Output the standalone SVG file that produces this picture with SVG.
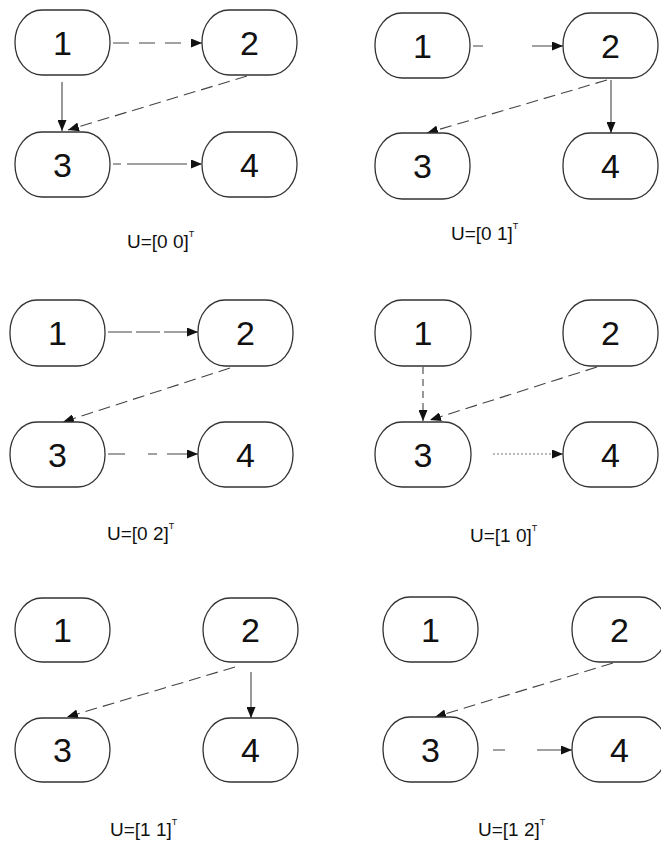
<svg xmlns="http://www.w3.org/2000/svg" width="661" height="842" viewBox="0 0 661 842">
<style>
.n{fill:#fff;stroke:#333;stroke-width:1.3}
.d{font-family:"Liberation Sans",Arial,sans-serif;font-size:34px;fill:#111;text-anchor:middle}
.l{font-family:"Liberation Sans",Arial,sans-serif;font-size:19px;fill:#111}
.s{font-size:9px}
.e{fill:none;stroke:#444;stroke-width:1.1;marker-end:url(#a)}
.da{stroke-dasharray:12 6}
</style>
<defs>
<marker id="a" markerUnits="userSpaceOnUse" markerWidth="11" markerHeight="9" refX="11" refY="4.5" orient="auto">
<path d="M0,0 L11,4.5 L0,9 z" fill="#111"/>
</marker>
</defs>
<g id="connectors">
<path class="e" style="stroke-dasharray:16 10" d="M113,43 L202,43"/>
<path class="e" d="M62,82 L62,131"/>
<path class="e da" d="M247,76 L68,130"/>
<path class="e" style="stroke-dasharray:8 6 60" d="M113,164 L202,164"/>
<path class="e" style="stroke-dasharray:10 49 40" d="M473,46 L563,46"/>
<path class="e da" d="M607,80 L427,133"/>
<path class="e" d="M611,80 L611,133"/>
<path class="e" style="stroke-dasharray:24 4" d="M108,332 L198,332"/>
<path class="e da" d="M230,368 L63,422"/>
<path class="e" style="stroke-dasharray:17 23 9 10 40" d="M108,454 L198,454"/>
<path class="e" style="stroke-dasharray:7 5" d="M423,367 L423,421"/>
<path class="e da" d="M597,367 L430,420"/>
<path class="e" style="stroke-dasharray:2 2;stroke:#777" d="M493,454 L563,454"/>
<path class="e da" d="M235,667 L67,717"/>
<path class="e" d="M251,672 L251,718"/>
<path class="e da" d="M613,663 L435,717"/>
<path class="e" style="stroke-dasharray:12 32 60" d="M493,750 L572,750"/>
</g>
<g id="p1n1"><rect class="n" x="15" y="10" width="95" height="65" rx="27" ry="32"/><text class="d" x="62.5" y="55">1</text></g>
<g id="p1n2"><rect class="n" x="202" y="10" width="95" height="65" rx="27" ry="32"/><text class="d" x="249.5" y="55">2</text></g>
<g id="p1n3"><rect class="n" x="15" y="132" width="95" height="65" rx="27" ry="32"/><text class="d" x="62.5" y="177">3</text></g>
<g id="p1n4"><rect class="n" x="202" y="132" width="95" height="65" rx="27" ry="32"/><text class="d" x="249.5" y="177">4</text></g>
<g id="p2n1"><rect class="n" x="375" y="13" width="95" height="65" rx="27" ry="32"/><text class="d" x="422.5" y="58">1</text></g>
<g id="p2n2"><rect class="n" x="563" y="13" width="95" height="65" rx="27" ry="32"/><text class="d" x="610.5" y="58">2</text></g>
<g id="p2n3"><rect class="n" x="375" y="133" width="95" height="66" rx="27" ry="32"/><text class="d" x="422.5" y="178">3</text></g>
<g id="p2n4"><rect class="n" x="563" y="133" width="95" height="66" rx="27" ry="32"/><text class="d" x="610.5" y="178">4</text></g>
<g id="p3n1"><rect class="n" x="10" y="300" width="95" height="66" rx="27" ry="32"/><text class="d" x="57.5" y="345">1</text></g>
<g id="p3n2"><rect class="n" x="198" y="300" width="95" height="66" rx="27" ry="32"/><text class="d" x="245.5" y="345">2</text></g>
<g id="p3n3"><rect class="n" x="10" y="422" width="95" height="65" rx="27" ry="32"/><text class="d" x="57.5" y="467">3</text></g>
<g id="p3n4"><rect class="n" x="198" y="422" width="95" height="65" rx="27" ry="32"/><text class="d" x="245.5" y="467">4</text></g>
<g id="p4n1"><rect class="n" x="375" y="300" width="96" height="66" rx="27" ry="32"/><text class="d" x="423" y="345">1</text></g>
<g id="p4n2"><rect class="n" x="563" y="300" width="95" height="66" rx="27" ry="32"/><text class="d" x="610.5" y="345">2</text></g>
<g id="p4n3"><rect class="n" x="375" y="422" width="96" height="65" rx="27" ry="32"/><text class="d" x="423" y="467">3</text></g>
<g id="p4n4"><rect class="n" x="563" y="422" width="95" height="65" rx="27" ry="32"/><text class="d" x="610.5" y="467">4</text></g>
<g id="p5n1"><rect class="n" x="15" y="598" width="95" height="64" rx="27" ry="32"/><text class="d" x="62.5" y="642">1</text></g>
<g id="p5n2"><rect class="n" x="203" y="598" width="95" height="64" rx="27" ry="32"/><text class="d" x="250.5" y="642">2</text></g>
<g id="p5n3"><rect class="n" x="15" y="718" width="95" height="64" rx="27" ry="32"/><text class="d" x="62.5" y="762">3</text></g>
<g id="p5n4"><rect class="n" x="203" y="718" width="95" height="64" rx="27" ry="32"/><text class="d" x="250.5" y="762">4</text></g>
<g id="p6n1"><rect class="n" x="383" y="597" width="95" height="65" rx="27" ry="32"/><text class="d" x="430.5" y="642">1</text></g>
<g id="p6n2"><rect class="n" x="572" y="597" width="95" height="65" rx="27" ry="32"/><text class="d" x="619.5" y="642">2</text></g>
<g id="p6n3"><rect class="n" x="383" y="717" width="95" height="65" rx="27" ry="32"/><text class="d" x="430.5" y="762">3</text></g>
<g id="p6n4"><rect class="n" x="572" y="717" width="95" height="65" rx="27" ry="32"/><text class="d" x="619.5" y="762">4</text></g>
<g id="labels">
<text class="l" x="127" y="248">U=[0 0]<tspan class="s" dy="-11">T</tspan></text>
<text class="l" x="451" y="240">U=[0 1]<tspan class="s" dy="-11">T</tspan></text>
<text class="l" x="107" y="540">U=[0 2]<tspan class="s" dy="-11">T</tspan></text>
<text class="l" x="470" y="542">U=[1 0]<tspan class="s" dy="-11">T</tspan></text>
<text class="l" x="110" y="836">U=[1 1]<tspan class="s" dy="-11">T</tspan></text>
<text class="l" x="478" y="836">U=[1 2]<tspan class="s" dy="-11">T</tspan></text>
</g>
</svg>
